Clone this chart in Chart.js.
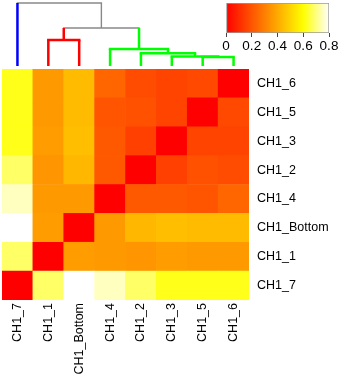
<!DOCTYPE html>
<html>
<head>
<meta charset="utf-8">
<script src="https://cdn.jsdelivr.net/npm/chart.js@4.4.0/dist/chart.umd.min.js"></script>
<style>
  html, body { margin: 0; padding: 0; background: #fff; }
  #wrap { position: relative; width: 340px; height: 378px; }
  #wrap canvas { position: absolute; }
</style>
</head>
<body>
<div id="wrap">
  <canvas id="heat" width="340" height="378" style="left:0;top:0"></canvas>
  <canvas id="dend" width="252" height="70" style="left:0;top:0"></canvas>
  <canvas id="key" width="140" height="60" style="left:200px;top:0"></canvas>
</div>
<script>
// column order (left to right) and row order (top to bottom)
const colLabels = ['CH1_7', 'CH1_1', 'CH1_Bottom', 'CH1_4', 'CH1_2', 'CH1_3', 'CH1_5', 'CH1_6'];
const rowLabels = ['CH1_6', 'CH1_5', 'CH1_3', 'CH1_2', 'CH1_4', 'CH1_Bottom', 'CH1_1', 'CH1_7'];

// cell values, one array per row (same order as rowLabels)
const cellValues = [
    [0.62, 0.36, 0.44, 0.24, 0.18, 0.16, 0.17, 0.00],
    [0.62, 0.36, 0.44, 0.20, 0.19, 0.16, 0.00, 0.17],
    [0.62, 0.37, 0.45, 0.21, 0.15, 0.00, 0.16, 0.16],
    [0.68, 0.35, 0.43, 0.21, 0.00, 0.15, 0.19, 0.18],
    [0.75, 0.36, 0.36, 0.00, 0.21, 0.21, 0.20, 0.24],
    [0.80, 0.37, 0.00, 0.36, 0.43, 0.45, 0.44, 0.44],
    [0.68, 0.00, 0.37, 0.36, 0.35, 0.37, 0.36, 0.36],
    [0.00, 0.68, 0.80, 0.75, 0.68, 0.62, 0.62, 0.62]
];

// dendrogram merges (m1..m7), heights relative to the top merge
const mergeLeft = ['CH1_5', 'CH1_3', 'CH1_2', 'CH1_4', 'CH1_1', 'm5', 'CH1_7'];
const mergeRight = ['CH1_6', 'm1', 'm2', 'm3', 'CH1_Bottom', 'm4', 'm6'];
const mergeHeight = [0.143, 0.151, 0.202, 0.27, 0.413, 0.603, 1.0];
const leafCluster = [0, 1, 1, 2, 2, 2, 2, 2];
const clusterColors = ['#0000ff', '#ff0000', '#00ff00'];
const linkGray = '#888888';

// colour key
const keyTicks = [0, 0.2, 0.4, 0.6, 0.8];
const keyMax = 0.8;

Chart.defaults.font.family = "'Liberation Sans', Arial, sans-serif";
Chart.defaults.font.size = 12.5;
Chart.defaults.color = '#000';
Chart.defaults.animation = false;
Chart.defaults.plugins.legend.display = false;
Chart.defaults.plugins.tooltip.enabled = false;

// R heat.colors style: red -> yellow over 3/4, then yellow -> white
function heatColor(v) {
    const t = Math.min(Math.max(v / keyMax, 0), 1);
    if (t <= 0.75) return 'rgb(255,' + Math.round(255 * t / 0.75) + ',0)';
    return 'rgb(255,255,' + Math.round(255 * (t - 0.75) / 0.25) + ')';
}

// heatmap: one stacked dataset per row, bottom row first
var heatSets = [];
for (var r = rowLabels.length - 1; r >= 0; r--) {
    heatSets.push({
        label: rowLabels[r],
        data: colLabels.map(() => 1),
        backgroundColor: cellValues[r].map(heatColor),
        borderWidth: 0,
        barPercentage: 1,
        categoryPercentage: 1
    });
}

new Chart(document.getElementById('heat'), {
    type: 'bar',
    data: { labels: colLabels, datasets: heatSets },
    options: {
        responsive: false,
        layout: { padding: { left: 2, top: 69 } },
        scales: {
            x: {
                stacked: true,
                grid: { display: false },
                border: { display: false },
                ticks: { autoSkip: false, minRotation: 90, maxRotation: 90, padding: -5 },
                afterFit: s => { s.height = 78; }
            },
            y: { stacked: true, display: false, min: 0, max: rowLabels.length },
            y2: {
                type: 'category',
                labels: rowLabels,
                position: 'right',
                offset: true,
                grid: { display: false, drawTicks: false },
                border: { display: false },
                ticks: { autoSkip: false, padding: 8 },
                afterFit: s => { s.width = 91; }
            }
        }
    }
});

// dendrogram segments built from the merge list
var nodeX = {}, nodeH = {}, nodeCol = {};
colLabels.forEach((l, i) => {
    nodeX[l] = i;
    nodeH[l] = 0;
    nodeCol[l] = clusterColors[leafCluster[i]];
});
var dendSets = [];
function seg(x1, y1, x2, y2, color, cap) {
    dendSets.push({
        data: [{ x: x1, y: y1 }, { x: x2, y: y2 }],
        showLine: true,
        borderColor: color,
        borderWidth: color === linkGray ? 1.4 : 2.5,
        borderCapStyle: cap,
        pointRadius: 0,
        clip: false
    });
}
mergeLeft.forEach((a, k) => {
    const b = mergeRight[k];
    const id = 'm' + (k + 1);
    const h = mergeHeight[k];
    nodeX[id] = (nodeX[a] + nodeX[b]) / 2;
    nodeH[id] = h;
    nodeCol[id] = nodeCol[a] === nodeCol[b] ? nodeCol[a] : linkGray;
    seg(nodeX[a], nodeH[a], nodeX[a], h, nodeCol[a], 'butt');
    seg(nodeX[b], nodeH[b], nodeX[b], h, nodeCol[b], 'butt');
    seg(nodeX[a], h, nodeX[b], h, nodeCol[id], 'square');
});

new Chart(document.getElementById('dend'), {
    type: 'scatter',
    data: { datasets: dendSets },
    options: {
        responsive: false,
        layout: { padding: { left: 2, right: 3, top: 3, bottom: 4 } },
        scales: {
            x: { type: 'linear', display: false, min: -0.5, max: colLabels.length - 0.5 },
            y: { type: 'linear', display: false, min: 0, max: 1 }
        }
    }
});

// colour key
new Chart(document.getElementById('key'), {
    type: 'bar',
    data: {
        labels: ['key'],
        datasets: [{
            data: [keyMax],
            backgroundColor: c => {
                const ch = c.chart;
                if (!ch.chartArea) return null;
                const sx = ch.scales.x;
                const g = ch.ctx.createLinearGradient(sx.getPixelForValue(0), 0, sx.getPixelForValue(keyMax), 0);
                g.addColorStop(0, heatColor(0));
                g.addColorStop(0.75, heatColor(0.75 * keyMax));
                g.addColorStop(1, heatColor(keyMax));
                return g;
            },
            borderColor: '#999',
            borderWidth: 1,
            borderSkipped: false,
            barPercentage: 1,
            categoryPercentage: 1
        }]
    },
    options: {
        indexAxis: 'y',
        responsive: false,
        layout: { padding: { left: 26, right: 11, top: 3 } },
        scales: {
            x: {
                min: keyTicks[0],
                max: keyTicks[keyTicks.length - 1],
                ticks: { stepSize: 0.2, autoSkip: false, padding: 1, font: { size: 13.5 } },
                grid: { drawOnChartArea: false, tickLength: 4, tickColor: '#444' },
                border: { display: false },
                afterFit: s => { s.height = 27; }
            },
            y: { display: false }
        }
    }
});
</script>
</body>
</html>
